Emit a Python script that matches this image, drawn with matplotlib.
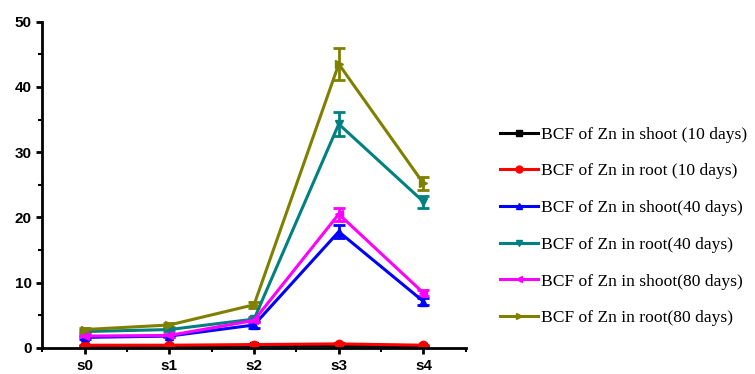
import matplotlib.pyplot as plt
from matplotlib.lines import Line2D
import numpy as np

# BCF of Zn across soil treatments
stages = ['s0', 's1', 's2', 's3', 's4']

shoot_10 = [0.2, 0.2, 0.3, 0.3, 0.2]
root_10 = [0.4, 0.4, 0.5, 0.6, 0.4]
shoot_40 = [1.6, 1.8, 3.5, 17.8, 7.1]
root_40 = [2.5, 2.8, 4.4, 34.3, 22.4]
shoot_80 = [1.8, 1.9, 4.2, 20.5, 8.4]
root_80 = [2.8, 3.5, 6.6, 43.5, 25.2]

err_shoot_10 = [0.05, 0.05, 0.05, 0.05, 0.05]
err_root_10 = [0.05, 0.05, 0.05, 0.1, 0.05]
err_shoot_40 = [0.2, 0.2, 0.4, 1.0, 0.6]
err_root_40 = [0.2, 0.2, 0.3, 1.8, 0.9]
err_shoot_80 = [0.2, 0.2, 0.3, 1.0, 0.5]
err_root_80 = [0.3, 0.3, 0.5, 2.4, 1.0]

labels = ['BCF of Zn in shoot (10 days)', 'BCF of Zn in root (10 days)',
          'BCF of Zn in shoot(40 days)', 'BCF of Zn in root(40 days)',
          'BCF of Zn in shoot(80 days)', 'BCF of Zn in root(80 days)']

fig = plt.figure(figsize=(7.55, 3.74), dpi=100)
ax = fig.add_axes([0.056, 0.07, 0.561, 0.872])

x = np.arange(len(stages))
series = [
    (shoot_10, err_shoot_10, 'black', 's'),
    (root_10, err_root_10, 'red', 'o'),
    (shoot_40, err_shoot_40, 'blue', '^'),
    (root_40, err_root_40, '#008080', 'v'),
    (shoot_80, err_shoot_80, 'magenta', '<'),
    (root_80, err_root_80, '#808000', '>'),
]

handles = []
for (vals, errs, col, mk), lab in zip(series, labels):
    ax.errorbar(x, vals, yerr=errs, color=col, marker=mk, markersize=6,
                linewidth=2.2, elinewidth=2, capsize=4, capthick=2)
    handles.append(Line2D([], [], color=col, marker=mk, markersize=5,
                          linewidth=2.2))

ax.set_xlim(-0.48, 4.5)
ax.set_ylim(0, 50)
ax.set_xticks(x)
ax.set_xticklabels(stages)
ax.set_xticks(np.arange(-0.5, 4.6, 1.0), minor=True)
ax.set_yticks(np.arange(0, 51, 10))
ax.set_yticks(np.arange(0, 51, 5), minor=True)

for side in ['top', 'right']:
    ax.spines[side].set_visible(False)
for side in ['left', 'bottom']:
    ax.spines[side].set_linewidth(2)

ax.tick_params(axis='both', which='major', direction='out', length=4, width=2,
               labelsize=11)
ax.tick_params(axis='both', which='minor', direction='out', length=3, width=1.5)
ax.tick_params(axis='x', which='major', pad=4)
for t in ax.get_xticklabels() + ax.get_yticklabels():
    t.set_fontweight('bold')
    t.set_fontfamily('Liberation Sans')

fig.legend(handles=handles, labels=labels, loc='upper left',
           bbox_to_anchor=(0.662, 0.662), frameon=False,
           prop={'family': 'Liberation Serif', 'size': 12.6},
           handlelength=2.2, handletextpad=0.15, labelspacing=1.17,
           borderaxespad=0, borderpad=0)

plt.savefig('out.png', dpi=100)
